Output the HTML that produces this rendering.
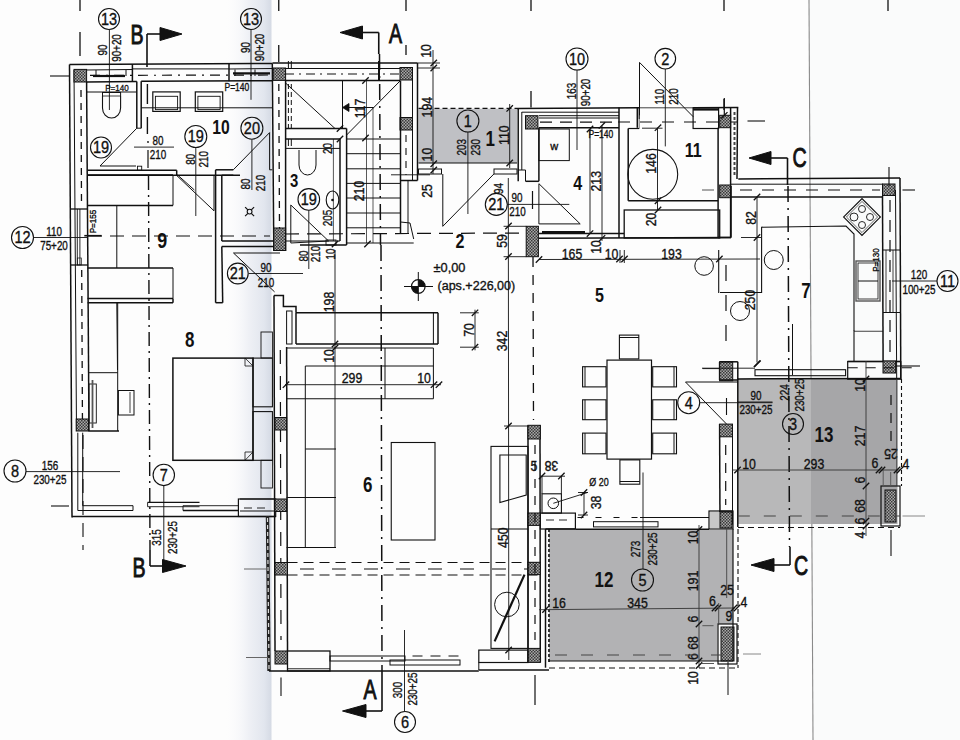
<!DOCTYPE html>
<html><head><meta charset="utf-8"><style>
html,body{margin:0;padding:0;background:#fff;}
svg{display:block;font-family:"Liberation Sans",sans-serif;}
</style></head><body>
<svg width="960" height="740" viewBox="0 0 960 740">
<defs>
<pattern id="hat" width="3" height="3" patternUnits="userSpaceOnUse"><rect width="3" height="3" fill="#a8a8a8"/><rect width="1.5" height="1.5" fill="#3a3a3a"/><rect x="1.5" y="1.5" width="1.5" height="1.5" fill="#3a3a3a"/></pattern>
<linearGradient id="crease" x1="0" x2="1" y1="0" y2="0">
<stop offset="0" stop-color="#fff" stop-opacity="0"/><stop offset="0.55" stop-color="#eef0f5" stop-opacity="1"/><stop offset="0.85" stop-color="#e2e6ee" stop-opacity="1"/><stop offset="1" stop-color="#d5dae4" stop-opacity="1"/></linearGradient>
</defs>
<rect width="960" height="740" fill="#fdfdfd"/>
<polygon points="809,0 960,0 960,740 813,740" fill="#fafbfb"/>
<rect x="222" y="0" width="49.5" height="740" fill="url(#crease)"/>
<line x1="809" y1="0" x2="813" y2="740" stroke="#8a8a8a" stroke-width="1.1"/>
<rect x="418.5" y="108.75" width="98.5" height="54.25" fill="#bfc0c4"/>
<rect x="737.5" y="379" width="73.5" height="145" fill="#b8b8b9"/>
<rect x="811" y="379" width="86.5" height="145" fill="#a6a6a8"/>
<rect x="549" y="530" width="184" height="131" fill="#b2b2b4"/>
<rect x="717.5" y="624" width="16" height="38" fill="#fdfdfd"/>
<line x1="80" y1="0" x2="80" y2="11" stroke="#111" stroke-width="1.3"/>
<line x1="278.75" y1="0" x2="278.75" y2="11" stroke="#111" stroke-width="1.3"/>
<line x1="406" y1="0" x2="406" y2="11" stroke="#111" stroke-width="1.3"/>
<line x1="531" y1="0" x2="531" y2="11" stroke="#111" stroke-width="1.3"/>
<line x1="724" y1="0" x2="724" y2="11" stroke="#111" stroke-width="1.3"/>
<line x1="888" y1="0" x2="888" y2="11" stroke="#111" stroke-width="1.3"/>
<line x1="80" y1="32" x2="80" y2="56" stroke="#111" stroke-width="1.3"/>
<line x1="278.75" y1="45" x2="278.75" y2="62" stroke="#111" stroke-width="1.3"/>
<line x1="406" y1="45" x2="406" y2="55" stroke="#111" stroke-width="1.3"/>
<line x1="531" y1="91" x2="531" y2="107.5" stroke="#111" stroke-width="1.3"/>
<line x1="724" y1="99" x2="724" y2="110" stroke="#111" stroke-width="1.3"/>
<line x1="50" y1="76" x2="69" y2="76" stroke="#111" stroke-width="1.1"/>
<line x1="147" y1="67" x2="147" y2="34" stroke="#111" stroke-width="1.6"/>
<line x1="147" y1="34" x2="160" y2="34" stroke="#111" stroke-width="1.6"/>
<polygon points="160,27.5 182,34 160,40.5" stroke="#111" stroke-width="1" fill="#111"/>
<text transform="translate(137,34) scale(0.7,1)" y="10.08" font-size="28" font-weight="normal" text-anchor="middle" fill="#111" stroke="#111" stroke-width="1.0">B</text>
<line x1="378.75" y1="54" x2="378.75" y2="32.5" stroke="#111" stroke-width="1.6"/>
<line x1="378.75" y1="32.5" x2="362.5" y2="32.5" stroke="#111" stroke-width="1.6"/>
<polygon points="362.5,26.0 340,32.5 362.5,39.0" stroke="#111" stroke-width="1" fill="#111"/>
<text transform="translate(395.5,33) scale(0.7,1)" y="10.08" font-size="28" font-weight="normal" text-anchor="middle" fill="#111" stroke="#111" stroke-width="1.0">A</text>
<line x1="787.5" y1="185" x2="787.5" y2="158" stroke="#111" stroke-width="1.6"/>
<line x1="787.5" y1="158" x2="771" y2="158" stroke="#111" stroke-width="1.6"/>
<polygon points="771,151.5 749,158 771,164.5" stroke="#111" stroke-width="1" fill="#111"/>
<text transform="translate(799.5,157) scale(0.7,1)" y="10.08" font-size="28" font-weight="normal" text-anchor="middle" fill="#111" stroke="#111" stroke-width="1.0">C</text>
<line x1="150" y1="550" x2="150" y2="566" stroke="#111" stroke-width="1.6"/>
<line x1="150" y1="566" x2="162.5" y2="566" stroke="#111" stroke-width="1.6"/>
<polygon points="162.5,559.5 186,566 162.5,572.5" stroke="#111" stroke-width="1" fill="#111"/>
<text transform="translate(139,567) scale(0.7,1)" y="10.08" font-size="28" font-weight="normal" text-anchor="middle" fill="#111" stroke="#111" stroke-width="1.0">B</text>
<line x1="382" y1="671" x2="382" y2="711" stroke="#111" stroke-width="1.6"/>
<line x1="382" y1="711" x2="366" y2="711" stroke="#111" stroke-width="1.6"/>
<polygon points="366,704.5 342.5,711 366,717.5" stroke="#111" stroke-width="1" fill="#111"/>
<text transform="translate(370,689) scale(0.7,1)" y="10.08" font-size="28" font-weight="normal" text-anchor="middle" fill="#111" stroke="#111" stroke-width="1.0">A</text>
<line x1="790" y1="547" x2="790" y2="565" stroke="#111" stroke-width="1.6"/>
<line x1="790" y1="565" x2="774" y2="565" stroke="#111" stroke-width="1.6"/>
<polygon points="774,558.5 751,565 774,571.5" stroke="#111" stroke-width="1" fill="#111"/>
<text transform="translate(801,565) scale(0.7,1)" y="10.08" font-size="28" font-weight="normal" text-anchor="middle" fill="#111" stroke="#111" stroke-width="1.0">C</text>
<line x1="69.5" y1="64.5" x2="72" y2="517.5" stroke="#111" stroke-width="1.5"/>
<line x1="74" y1="70" x2="76.5" y2="431" stroke="#111" stroke-width="1.0"/>
<line x1="86.6" y1="82" x2="89" y2="431" stroke="#111" stroke-width="1.5"/>
<line x1="81" y1="90" x2="81.5" y2="205" stroke="#111" stroke-width="1.3" stroke-dasharray="7,6"/>
<line x1="81.7" y1="270" x2="82.5" y2="431" stroke="#111" stroke-width="1.3" stroke-dasharray="7,6"/>
<rect x="74" y="69.4" width="12.6" height="12.6" fill="url(#hat)" stroke="#111" stroke-width="1"/>
<line x1="70" y1="209" x2="88" y2="209" stroke="#111" stroke-width="1.3"/>
<line x1="70" y1="265" x2="88" y2="265" stroke="#111" stroke-width="1.3"/>
<line x1="77.3" y1="209" x2="77.3" y2="265" stroke="#111" stroke-width="0.9"/>
<line x1="79.9" y1="209" x2="79.9" y2="265" stroke="#111" stroke-width="0.9"/>
<rect x="77.3" y="258" width="4" height="7" stroke="#111" stroke-width="0.7" fill="none"/>
<line x1="69.5" y1="64.5" x2="272.5" y2="63.5" stroke="#111" stroke-width="1.5"/>
<line x1="86.6" y1="70" x2="132.4" y2="69.5" stroke="#111" stroke-width="1.0"/>
<line x1="132.4" y1="68.9" x2="229" y2="68.9" stroke="#111" stroke-width="1.0"/>
<line x1="229" y1="69" x2="272.5" y2="68.5" stroke="#111" stroke-width="1.0"/>
<line x1="86.6" y1="82" x2="136.8" y2="81.5" stroke="#111" stroke-width="1.5"/>
<line x1="141.2" y1="81.3" x2="272.3" y2="80.8" stroke="#111" stroke-width="1.5"/>
<line x1="90" y1="75.4" x2="272" y2="75" stroke="#111" stroke-width="1.2" stroke-dasharray="10,6,2,6"/>
<line x1="132.4" y1="64" x2="132.4" y2="81.3" stroke="#111" stroke-width="1.5"/>
<line x1="229" y1="64" x2="229" y2="81.3" stroke="#111" stroke-width="1.5"/>
<line x1="93" y1="76" x2="125" y2="76" stroke="#111" stroke-width="2.2"/>
<line x1="86.6" y1="92" x2="136.8" y2="92" stroke="#111" stroke-width="1.0"/>
<text transform="translate(117,88) scale(0.85,1)" y="3.42" font-size="9.5" font-weight="normal" text-anchor="middle" fill="#111" stroke="#111" stroke-width="0.35">P=140</text>
<line x1="136.8" y1="81.5" x2="136.8" y2="128.2" stroke="#111" stroke-width="1.5"/>
<line x1="141.2" y1="81.3" x2="141.2" y2="128.2" stroke="#111" stroke-width="1.5"/>
<line x1="136.8" y1="128.2" x2="141.2" y2="128.2" stroke="#111" stroke-width="1.0"/>
<path d="M102.5,96 L102.5,108 A9,10 0 0 0 120.6,108 L120.6,96" stroke="#111" stroke-width="1.1" fill="none"/>
<line x1="102" y1="92.5" x2="121" y2="92.5" stroke="#111" stroke-width="1.0"/>
<line x1="102.5" y1="92.5" x2="102.5" y2="96" stroke="#111" stroke-width="1.0"/>
<line x1="120.6" y1="92.5" x2="120.6" y2="96" stroke="#111" stroke-width="1.0"/>
<line x1="102.5" y1="96" x2="120.6" y2="96" stroke="#111" stroke-width="0.8"/>
<line x1="87.6" y1="170.3" x2="176.7" y2="170.3" stroke="#111" stroke-width="1.5"/>
<rect x="137.5" y="166.2" width="4.2" height="4.1" stroke="#111" stroke-width="0.9" fill="none"/>
<line x1="176.7" y1="170.3" x2="176.7" y2="175.3" stroke="#111" stroke-width="1.5"/>
<line x1="87.6" y1="175.3" x2="240" y2="175.3" stroke="#111" stroke-width="1.5"/>
<polyline points="136.8,128.2 100,166 136,166" stroke="#111" stroke-width="1.0" fill="none"/>
<line x1="134" y1="147.1" x2="174" y2="147.1" stroke="#111" stroke-width="0.9"/>
<line x1="148" y1="150" x2="148" y2="168" stroke="#111" stroke-width="1.2"/>
<text transform="translate(158,140.8) scale(0.76,1)" y="4.68" font-size="13" font-weight="normal" text-anchor="middle" fill="#111" stroke="#111" stroke-width="0.35">80</text>
<text transform="translate(158,154.8) scale(0.76,1)" y="4.68" font-size="13" font-weight="normal" text-anchor="middle" fill="#111" stroke="#111" stroke-width="0.35">210</text>
<circle cx="148" cy="142" r="0.9" fill="#111"/>
<line x1="141.2" y1="107.8" x2="272.3" y2="107.8" stroke="#111" stroke-width="1.0"/>
<rect x="152.8" y="91.9" width="27.4" height="19.5" stroke="#111" stroke-width="1.2" fill="none"/>
<rect x="155.4" y="96.3" width="22.2" height="13.3" stroke="#111" stroke-width="0.9" fill="none"/>
<rect x="195.3" y="91.9" width="27.4" height="19.5" stroke="#111" stroke-width="1.2" fill="none"/>
<rect x="197.9" y="96.3" width="22.2" height="13.3" stroke="#111" stroke-width="0.9" fill="none"/>
<text transform="translate(236.9,87.6) scale(0.85,1)" y="3.60" font-size="10" font-weight="normal" text-anchor="middle" fill="#111" stroke="#111" stroke-width="0.35">P=140</text>
<line x1="251" y1="30" x2="251" y2="99.8" stroke="#111" stroke-width="0.9"/>
<line x1="147.4" y1="84" x2="147.4" y2="104" stroke="#111" stroke-width="1.4"/>
<line x1="147.4" y1="117" x2="147.4" y2="134" stroke="#111" stroke-width="1.4"/>
<text transform="translate(221,127.3) scale(0.8,1)" y="7.06" font-size="19.6" font-weight="bold" text-anchor="middle" fill="#111" stroke="#111" stroke-width="0">10</text>
<line x1="215.6" y1="169.8" x2="233.3" y2="169.8" stroke="#111" stroke-width="1.5"/>
<line x1="215.6" y1="169.8" x2="215.6" y2="302.7" stroke="#111" stroke-width="1.5"/>
<line x1="221.8" y1="175" x2="221.8" y2="241" stroke="#111" stroke-width="1.5"/>
<line x1="221.8" y1="175" x2="233.3" y2="175" stroke="#111" stroke-width="1.0"/>
<line x1="233.3" y1="169.8" x2="269.6" y2="132.6" stroke="#111" stroke-width="1.0"/>
<line x1="269.6" y1="132.6" x2="269.6" y2="169.8" stroke="#111" stroke-width="1.0"/>
<line x1="269.6" y1="169.8" x2="272.3" y2="169.8" stroke="#111" stroke-width="1.0"/>
<line x1="272.3" y1="63.5" x2="273.8" y2="251" stroke="#111" stroke-width="1.5"/>
<line x1="285.6" y1="80.5" x2="285.6" y2="251" stroke="#111" stroke-width="1.5"/>
<line x1="278.8" y1="84" x2="279.5" y2="228" stroke="#111" stroke-width="1.3" stroke-dasharray="7,6"/>
<rect x="273.2" y="68" width="12.4" height="12.4" fill="url(#hat)" stroke="#111" stroke-width="1"/>
<rect x="273.8" y="228" width="11.8" height="22.5" fill="url(#hat)" stroke="#111" stroke-width="1"/>
<line x1="221.8" y1="241" x2="273.8" y2="241" stroke="#111" stroke-width="1.5"/>
<line x1="221.8" y1="246.5" x2="273.8" y2="246.5" stroke="#111" stroke-width="1.5"/>
<line x1="221.8" y1="246.5" x2="222.7" y2="302.7" stroke="#111" stroke-width="1.5"/>
<line x1="215.6" y1="302.7" x2="222.7" y2="302.7" stroke="#111" stroke-width="1.5"/>
<circle cx="249.6" cy="211.6" r="2.4" stroke="#111" stroke-width="1.1" fill="none"/>
<line x1="245.1" y1="207.1" x2="247.9" y2="209.9" stroke="#111" stroke-width="1.2"/>
<line x1="254.1" y1="207.1" x2="251.3" y2="209.9" stroke="#111" stroke-width="1.2"/>
<line x1="245.1" y1="216.1" x2="247.9" y2="213.3" stroke="#111" stroke-width="1.2"/>
<line x1="254.1" y1="216.1" x2="251.3" y2="213.3" stroke="#111" stroke-width="1.2"/>
<line x1="233.5" y1="253" x2="280" y2="253" stroke="#111" stroke-width="1.0"/>
<line x1="233.5" y1="253" x2="274.6" y2="291.9" stroke="#111" stroke-width="1.0"/>
<circle cx="237.8" cy="273.5" r="10.4" stroke="#111" stroke-width="1.1" fill="none"/>
<text transform="translate(237.8,273.5) scale(0.88,1)" y="5.94" font-size="16.5" font-weight="normal" text-anchor="middle" fill="#111" stroke="#111" stroke-width="0.35">21</text>
<line x1="248.6" y1="273.5" x2="303" y2="273.5" stroke="#111" stroke-width="0.9"/>
<text transform="translate(266,267) scale(0.76,1)" y="4.68" font-size="13" font-weight="normal" text-anchor="middle" fill="#111" stroke="#111" stroke-width="0.35">90</text>
<text transform="translate(266,282.2) scale(0.76,1)" y="4.68" font-size="13" font-weight="normal" text-anchor="middle" fill="#111" stroke="#111" stroke-width="0.35">210</text>
<line x1="87.6" y1="175" x2="173" y2="175" stroke="#111" stroke-width="1.5"/>
<line x1="173" y1="175" x2="173" y2="205.4" stroke="#111" stroke-width="1.0"/>
<line x1="87.6" y1="205.4" x2="173" y2="205.4" stroke="#111" stroke-width="1.5"/>
<line x1="116.8" y1="205.4" x2="116.8" y2="268" stroke="#111" stroke-width="1.0"/>
<line x1="87.6" y1="268" x2="173" y2="268" stroke="#111" stroke-width="1.5"/>
<line x1="173" y1="268" x2="173" y2="298.4" stroke="#111" stroke-width="1.0"/>
<line x1="87.6" y1="298.4" x2="173" y2="298.4" stroke="#111" stroke-width="1.5"/>
<line x1="87.6" y1="302.7" x2="173" y2="302.7" stroke="#111" stroke-width="1.5"/>
<line x1="173" y1="298.4" x2="173" y2="302.7" stroke="#111" stroke-width="1.5"/>
<line x1="116.8" y1="302.7" x2="117.5" y2="370" stroke="#111" stroke-width="1.0"/>
<text transform="translate(93,221.6) rotate(-90) scale(0.85,1)" y="3.42" font-size="9.5" font-weight="normal" text-anchor="middle" fill="#111" stroke="#111" stroke-width="0.35">P=155</text>
<line x1="84.3" y1="235.7" x2="101.6" y2="235.7" stroke="#111" stroke-width="1.6"/>
<text transform="translate(162.2,240) scale(0.8,1)" y="8.03" font-size="22.3" font-weight="bold" text-anchor="middle" fill="#111" stroke="#111" stroke-width="0">9</text>
<line x1="176.2" y1="175" x2="214" y2="210.8" stroke="#111" stroke-width="1.0"/>
<line x1="214" y1="175" x2="214" y2="210.8" stroke="#111" stroke-width="1.0"/>
<line x1="195.8" y1="147.7" x2="195.8" y2="216" stroke="#111" stroke-width="0.9"/>
<circle cx="195.8" cy="136.5" r="11" stroke="#111" stroke-width="1.1" fill="none"/>
<text transform="translate(195.8,136.5) scale(0.88,1)" y="5.94" font-size="16.5" font-weight="normal" text-anchor="middle" fill="#111" stroke="#111" stroke-width="0.35">19</text>
<text transform="translate(190,159.2) rotate(-90) scale(0.76,1)" y="4.68" font-size="13" font-weight="normal" text-anchor="middle" fill="#111" stroke="#111" stroke-width="0.35">80</text>
<text transform="translate(203.2,159.2) rotate(-90) scale(0.76,1)" y="4.68" font-size="13" font-weight="normal" text-anchor="middle" fill="#111" stroke="#111" stroke-width="0.35">210</text>
<circle cx="251.9" cy="128.2" r="11" stroke="#111" stroke-width="1.1" fill="none"/>
<text transform="translate(251.9,128.2) scale(0.88,1)" y="5.94" font-size="16.5" font-weight="normal" text-anchor="middle" fill="#111" stroke="#111" stroke-width="0.35">20</text>
<line x1="251.9" y1="139.7" x2="251.9" y2="190" stroke="#111" stroke-width="0.9"/>
<text transform="translate(245.7,184) rotate(-90) scale(0.76,1)" y="4.68" font-size="13" font-weight="normal" text-anchor="middle" fill="#111" stroke="#111" stroke-width="0.35">80</text>
<text transform="translate(260,183) rotate(-90) scale(0.76,1)" y="4.68" font-size="13" font-weight="normal" text-anchor="middle" fill="#111" stroke="#111" stroke-width="0.35">210</text>
<line x1="177.6" y1="175" x2="194.4" y2="190" stroke="#111" stroke-width="1.0"/>
<circle cx="101" cy="147.5" r="10.5" stroke="#111" stroke-width="1.1" fill="none"/>
<text transform="translate(101,147.5) scale(0.88,1)" y="5.94" font-size="16.5" font-weight="normal" text-anchor="middle" fill="#111" stroke="#111" stroke-width="0.35">19</text>
<circle cx="109" cy="19" r="10.5" stroke="#111" stroke-width="1.1" fill="none"/>
<text transform="translate(109,19) scale(0.88,1)" y="5.94" font-size="16.5" font-weight="normal" text-anchor="middle" fill="#111" stroke="#111" stroke-width="0.35">13</text>
<line x1="109.4" y1="29.5" x2="109.4" y2="110" stroke="#111" stroke-width="0.9"/>
<text transform="translate(102,50) rotate(-90) scale(0.76,1)" y="4.68" font-size="13" font-weight="normal" text-anchor="middle" fill="#111" stroke="#111" stroke-width="0.35">90</text>
<text transform="translate(116.5,48) rotate(-90) scale(0.76,1)" y="4.68" font-size="13" font-weight="normal" text-anchor="middle" fill="#111" stroke="#111" stroke-width="0.35">90+20</text>
<circle cx="251" cy="19" r="10.5" stroke="#111" stroke-width="1.1" fill="none"/>
<text transform="translate(251,19) scale(0.88,1)" y="5.94" font-size="16.5" font-weight="normal" text-anchor="middle" fill="#111" stroke="#111" stroke-width="0.35">13</text>
<text transform="translate(245,47.5) rotate(-90) scale(0.76,1)" y="4.68" font-size="13" font-weight="normal" text-anchor="middle" fill="#111" stroke="#111" stroke-width="0.35">90</text>
<text transform="translate(259,47.5) rotate(-90) scale(0.76,1)" y="4.68" font-size="13" font-weight="normal" text-anchor="middle" fill="#111" stroke="#111" stroke-width="0.35">90+20</text>
<line x1="272.5" y1="63" x2="417.5" y2="63" stroke="#111" stroke-width="1.5"/>
<line x1="285" y1="68.5" x2="400" y2="68.5" stroke="#111" stroke-width="1.0"/>
<line x1="285" y1="74" x2="400" y2="74" stroke="#111" stroke-width="1.1" stroke-dasharray="9,5,2,5"/>
<line x1="285" y1="80.5" x2="400" y2="80.5" stroke="#111" stroke-width="1.5"/>
<rect x="400" y="67.5" width="12.5" height="12.5" fill="url(#hat)" stroke="#111" stroke-width="1"/>
<rect x="400" y="117.5" width="12.5" height="12.5" fill="url(#hat)" stroke="#111" stroke-width="1"/>
<line x1="417.5" y1="63" x2="417.5" y2="180.5" stroke="#111" stroke-width="1.5"/>
<line x1="400.5" y1="80.5" x2="400.5" y2="233.5" stroke="#111" stroke-width="1.5"/>
<line x1="412.5" y1="80" x2="412.5" y2="180.5" stroke="#111" stroke-width="1.0"/>
<line x1="406" y1="135" x2="406" y2="175" stroke="#111" stroke-width="1.1" stroke-dasharray="7,6"/>
<line x1="400.5" y1="180.5" x2="417.5" y2="180.5" stroke="#111" stroke-width="1.5"/>
<line x1="400.5" y1="233.5" x2="408" y2="233.5" stroke="#111" stroke-width="1.0"/>
<line x1="408" y1="180.5" x2="408" y2="233.5" stroke="#111" stroke-width="1.0"/>
<line x1="285" y1="82.5" x2="335" y2="128.5" stroke="#111" stroke-width="1.0"/>
<line x1="400" y1="81" x2="346.6" y2="135" stroke="#111" stroke-width="1.0"/>
<line x1="342.5" y1="80.5" x2="342.5" y2="128.5" stroke="#111" stroke-width="1.0"/>
<polygon points="342.5,107.5 349,103.5 349,111.5" stroke="#111" stroke-width="0.8" fill="#111"/>
<line x1="349" y1="107.5" x2="373.7" y2="107.5" stroke="#111" stroke-width="1.0"/>
<text transform="translate(360,108.5) rotate(-90) scale(0.88,1)" y="5.04" font-size="14" font-weight="normal" text-anchor="middle" fill="#111" stroke="#111" stroke-width="0.35">117</text>
<line x1="285" y1="128.5" x2="346.6" y2="128.5" stroke="#111" stroke-width="1.5"/>
<line x1="285" y1="139" x2="340" y2="139" stroke="#111" stroke-width="1.5"/>
<line x1="340" y1="139" x2="340" y2="241" stroke="#111" stroke-width="1.5"/>
<line x1="346.6" y1="128.5" x2="346.6" y2="245" stroke="#111" stroke-width="1.5"/>
<line x1="285" y1="148.4" x2="340" y2="148.4" stroke="#111" stroke-width="1.0"/>
<line x1="333.4" y1="139" x2="333.4" y2="241" stroke="#111" stroke-width="0.7"/>
<line x1="300" y1="245" x2="346.6" y2="245" stroke="#111" stroke-width="1.5"/>
<line x1="286" y1="241" x2="340" y2="241" stroke="#111" stroke-width="1.0"/>
<path d="M299,150 L299,165 A8.5,10 0 0 0 316,165 L316,150" stroke="#111" stroke-width="1" fill="none"/>
<ellipse cx="332.5" cy="200" rx="6.3" ry="9" stroke="#111" stroke-width="1.1" fill="none"/>
<circle cx="332.5" cy="200" r="1.3" fill="#111"/>
<polyline points="290.8,205 290.8,243 328.6,241" stroke="#111" stroke-width="1.0" fill="none"/>
<line x1="290.8" y1="205" x2="328.6" y2="241" stroke="#111" stroke-width="1.0"/>
<text transform="translate(294.2,180.5) scale(0.85,1)" y="6.30" font-size="17.5" font-weight="bold" text-anchor="middle" fill="#111" stroke="#111" stroke-width="0">3</text>
<line x1="346.6" y1="139" x2="400.5" y2="139" stroke="#111" stroke-width="1.0"/>
<line x1="346.6" y1="153.7" x2="400.5" y2="153.7" stroke="#111" stroke-width="1.0"/>
<line x1="346.6" y1="168.8" x2="400.5" y2="168.8" stroke="#111" stroke-width="1.0"/>
<line x1="346.6" y1="183.4" x2="400.5" y2="183.4" stroke="#111" stroke-width="1.0"/>
<line x1="346.6" y1="198" x2="400.5" y2="198" stroke="#111" stroke-width="1.0"/>
<line x1="346.6" y1="213" x2="400.5" y2="213" stroke="#111" stroke-width="1.0"/>
<line x1="346.6" y1="227.8" x2="400.5" y2="227.8" stroke="#111" stroke-width="1.0"/>
<line x1="366.5" y1="80.5" x2="366.5" y2="243" stroke="#111" stroke-width="0.7"/>
<line x1="373" y1="107.5" x2="373" y2="243" stroke="#111" stroke-width="0.7"/>
<line x1="346.6" y1="243" x2="413.7" y2="243" stroke="#111" stroke-width="1.0"/>
<polyline points="400.5,222 410,223 413.7,239" stroke="#111" stroke-width="1.0" fill="none"/>
<line x1="117.7" y1="302.3" x2="117.7" y2="431" stroke="#111" stroke-width="1.0"/>
<line x1="88.5" y1="372.7" x2="117.7" y2="372.7" stroke="#111" stroke-width="1.0"/>
<line x1="88.5" y1="431" x2="119" y2="431" stroke="#111" stroke-width="1.5"/>
<rect x="118.4" y="390.5" width="15.6" height="24.5" stroke="#111" stroke-width="1" fill="none"/>
<line x1="130" y1="392" x2="130" y2="413" stroke="#111" stroke-width="0.8"/>
<rect x="89" y="384" width="7.3" height="39" stroke="#111" stroke-width="0.9" fill="none"/>
<line x1="92.5" y1="380" x2="92.5" y2="428" stroke="#555" stroke-width="1.8"/>
<rect x="76.2" y="419" width="12.3" height="12" fill="url(#hat)" stroke="#111" stroke-width="1"/>
<line x1="77.8" y1="432.7" x2="77.8" y2="510.5" stroke="#111" stroke-width="1.0"/>
<line x1="82.7" y1="432.7" x2="82.7" y2="505.7" stroke="#111" stroke-width="1.0"/>
<line x1="77.8" y1="510.5" x2="133" y2="510.5" stroke="#111" stroke-width="1.0"/>
<line x1="82.7" y1="505.7" x2="133" y2="505.7" stroke="#111" stroke-width="1.0"/>
<line x1="133" y1="505.7" x2="133" y2="510.5" stroke="#111" stroke-width="1.0"/>
<line x1="72" y1="516.5" x2="275.7" y2="516.5" stroke="#111" stroke-width="1.5"/>
<text transform="translate(189.7,339.3) scale(0.8,1)" y="7.63" font-size="21.2" font-weight="bold" text-anchor="middle" fill="#111" stroke="#111" stroke-width="0">8</text>
<rect x="172.9" y="358.1" width="80.1" height="102.2" stroke="#111" stroke-width="1.5" fill="none"/>
<rect x="253" y="358.1" width="19.4" height="48.7" stroke="#111" stroke-width="1.1" fill="none"/>
<rect x="253" y="411.6" width="19.4" height="48.7" stroke="#111" stroke-width="1.1" fill="none"/>
<polygon points="245,358.1 253,366 245,366" stroke="#111" stroke-width="0.8" fill="none"/>
<polygon points="245,460.3 253,452 245,452" stroke="#111" stroke-width="0.8" fill="none"/>
<rect x="261" y="332" width="11.4" height="26" stroke="#111" stroke-width="0.9" fill="none"/>
<rect x="261" y="460.3" width="11.4" height="27.7" stroke="#111" stroke-width="0.9" fill="none"/>
<line x1="147.6" y1="502.4" x2="199.5" y2="502.4" stroke="#111" stroke-width="1.4"/>
<line x1="147.6" y1="506.7" x2="199.5" y2="506.7" stroke="#111" stroke-width="0.9"/>
<line x1="147.6" y1="502.4" x2="147.6" y2="506.7" stroke="#111" stroke-width="0.9"/>
<line x1="183" y1="505.7" x2="238.4" y2="505.7" stroke="#111" stroke-width="0.9"/>
<line x1="183" y1="510.5" x2="238.4" y2="510.5" stroke="#111" stroke-width="1.4"/>
<line x1="183" y1="505.7" x2="183" y2="510.5" stroke="#111" stroke-width="0.9"/>
<rect x="238.4" y="499" width="37.3" height="17.5" stroke="#111" stroke-width="1.2" fill="none"/>
<line x1="244" y1="508" x2="268" y2="508" stroke="#111" stroke-width="0.9" stroke-dasharray="8,5"/>
<circle cx="163.8" cy="474.9" r="10.7" stroke="#111" stroke-width="1.1" fill="none"/>
<text transform="translate(163.8,474.9) scale(0.88,1)" y="5.94" font-size="16.5" font-weight="normal" text-anchor="middle" fill="#111" stroke="#111" stroke-width="0.35">7</text>
<line x1="163.8" y1="485.6" x2="163.8" y2="566" stroke="#111" stroke-width="0.9"/>
<text transform="translate(156,537.5) rotate(-90) scale(0.76,1)" y="4.68" font-size="13" font-weight="normal" text-anchor="middle" fill="#111" stroke="#111" stroke-width="0.35">315</text>
<text transform="translate(172.5,537.5) rotate(-90) scale(0.76,1)" y="4.68" font-size="13" font-weight="normal" text-anchor="middle" fill="#111" stroke="#111" stroke-width="0.35">230+25</text>
<circle cx="15" cy="471" r="11" stroke="#111" stroke-width="1.1" fill="none"/>
<text transform="translate(15,471) scale(0.88,1)" y="5.94" font-size="16.5" font-weight="normal" text-anchor="middle" fill="#111" stroke="#111" stroke-width="0.35">8</text>
<line x1="26" y1="471.6" x2="120" y2="471.6" stroke="#111" stroke-width="0.9"/>
<text transform="translate(50,465) scale(0.76,1)" y="4.68" font-size="13" font-weight="normal" text-anchor="middle" fill="#111" stroke="#111" stroke-width="0.35">156</text>
<text transform="translate(50,479) scale(0.76,1)" y="4.68" font-size="13" font-weight="normal" text-anchor="middle" fill="#111" stroke="#111" stroke-width="0.35">230+25</text>
<line x1="51" y1="506" x2="69" y2="506" stroke="#111" stroke-width="1.1"/>
<line x1="83" y1="435" x2="83" y2="550" stroke="#111" stroke-width="1.1" stroke-dasharray="14,8"/>
<circle cx="22.5" cy="237.5" r="11" stroke="#111" stroke-width="1.1" fill="none"/>
<text transform="translate(22.5,237.5) scale(0.88,1)" y="5.94" font-size="16.5" font-weight="normal" text-anchor="middle" fill="#111" stroke="#111" stroke-width="0.35">12</text>
<line x1="33.5" y1="237.5" x2="88" y2="237.5" stroke="#111" stroke-width="0.9"/>
<text transform="translate(54,231) scale(0.76,1)" y="4.68" font-size="13" font-weight="normal" text-anchor="middle" fill="#111" stroke="#111" stroke-width="0.35">110</text>
<text transform="translate(54,245) scale(0.76,1)" y="4.68" font-size="13" font-weight="normal" text-anchor="middle" fill="#111" stroke="#111" stroke-width="0.35">75+20</text>
<line x1="148.5" y1="176" x2="150" y2="550" stroke="#111" stroke-width="1.4" stroke-dasharray="14,5,2,5"/>
<line x1="88" y1="236" x2="270" y2="236" stroke="#111" stroke-width="1.1" stroke-dasharray="14,8"/>
<polyline points="274,295.6 283.4,295.6 283.4,306.6 296,306.6 296,312.8" stroke="#111" stroke-width="1.5" fill="none"/>
<line x1="274" y1="295.6" x2="275" y2="651" stroke="#111" stroke-width="1.5"/>
<line x1="286.6" y1="347" x2="287.5" y2="651" stroke="#111" stroke-width="1.5"/>
<line x1="280.3" y1="350" x2="281" y2="640" stroke="#111" stroke-width="1.2" stroke-dasharray="14,12"/>
<rect x="286.6" y="311" width="5.4" height="33" stroke="#111" stroke-width="1" fill="none"/>
<line x1="296" y1="312.8" x2="438" y2="312.8" stroke="#111" stroke-width="1.5"/>
<line x1="438" y1="312.8" x2="438" y2="344" stroke="#111" stroke-width="1.5"/>
<line x1="433.4" y1="312.8" x2="433.4" y2="344" stroke="#111" stroke-width="1.0"/>
<line x1="296" y1="344" x2="438" y2="344" stroke="#111" stroke-width="1.5"/>
<line x1="296" y1="312.8" x2="296" y2="344" stroke="#111" stroke-width="1.5"/>
<line x1="286.6" y1="348" x2="433.4" y2="348" stroke="#111" stroke-width="1.0"/>
<line x1="433.4" y1="348" x2="433.4" y2="398.75" stroke="#111" stroke-width="1.0"/>
<line x1="305.3" y1="366" x2="433.4" y2="366" stroke="#111" stroke-width="1.0"/>
<line x1="305.3" y1="366" x2="305.3" y2="547.5" stroke="#111" stroke-width="1.0"/>
<line x1="385" y1="348" x2="385" y2="398.75" stroke="#111" stroke-width="1.0"/>
<line x1="286.6" y1="398.75" x2="433.4" y2="398.75" stroke="#111" stroke-width="1.0"/>
<line x1="285" y1="384.7" x2="441" y2="384.7" stroke="#111" stroke-width="0.9"/>
<text transform="translate(352,377.5) scale(0.88,1)" y="5.04" font-size="14" font-weight="normal" text-anchor="middle" fill="#111" stroke="#111" stroke-width="0.35">299</text>
<text transform="translate(424,377.5) scale(0.88,1)" y="5.04" font-size="14" font-weight="normal" text-anchor="middle" fill="#111" stroke="#111" stroke-width="0.35">10</text>
<line x1="335" y1="250" x2="335" y2="547.5" stroke="#111" stroke-width="0.9"/>
<text transform="translate(329.4,302) rotate(-90) scale(0.88,1)" y="5.04" font-size="14" font-weight="normal" text-anchor="middle" fill="#111" stroke="#111" stroke-width="0.35">198</text>
<text transform="translate(329.4,356) rotate(-90) scale(0.88,1)" y="5.04" font-size="14" font-weight="normal" text-anchor="middle" fill="#111" stroke="#111" stroke-width="0.35">10</text>
<line x1="305.3" y1="449" x2="336" y2="449" stroke="#111" stroke-width="1.0"/>
<line x1="286.6" y1="497.5" x2="336" y2="497.5" stroke="#111" stroke-width="1.0"/>
<line x1="286.6" y1="547.5" x2="336" y2="547.5" stroke="#111" stroke-width="1.0"/>
<rect x="391.25" y="442.5" width="43.75" height="97.5" stroke="#111" stroke-width="1.1" fill="none"/>
<text transform="translate(367.8,484) scale(0.8,1)" y="7.63" font-size="21.2" font-weight="bold" text-anchor="middle" fill="#111" stroke="#111" stroke-width="0">6</text>
<line x1="381" y1="245" x2="382" y2="671" stroke="#111" stroke-width="1.5" stroke-dasharray="16,6,2,6"/>
<rect x="275" y="417.5" width="11.6" height="12.5" fill="url(#hat)" stroke="#111" stroke-width="1"/>
<rect x="275" y="499" width="11.6" height="12.5" fill="url(#hat)" stroke="#111" stroke-width="1"/>
<rect x="275" y="562.5" width="12.5" height="12.5" fill="url(#hat)" stroke="#111" stroke-width="1"/>
<rect x="275" y="651" width="12.5" height="13" fill="url(#hat)" stroke="#111" stroke-width="1"/>
<line x1="240" y1="499" x2="275" y2="499" stroke="#111" stroke-width="1.0"/>
<line x1="240" y1="511" x2="275" y2="511" stroke="#111" stroke-width="1.0"/>
<line x1="267.5" y1="516" x2="269" y2="671" stroke="#222" stroke-width="3.4"/>
<line x1="267.5" y1="518" x2="269" y2="669" stroke="#ddd" stroke-width="1.2" stroke-dasharray="4,3"/>
<line x1="287.5" y1="562.5" x2="540" y2="562.5" stroke="#111" stroke-width="1.2" stroke-dasharray="10,6"/>
<line x1="287.5" y1="575" x2="540" y2="575" stroke="#111" stroke-width="1.2" stroke-dasharray="10,6"/>
<line x1="300" y1="569" x2="528" y2="569" stroke="#111" stroke-width="1.1" stroke-dasharray="14,18"/>
<line x1="244" y1="569" x2="267.5" y2="569" stroke="#666" stroke-width="1"/>
<line x1="246" y1="657.5" x2="267.5" y2="657.5" stroke="#666" stroke-width="1"/>
<rect x="287.5" y="651" width="42.5" height="20" stroke="#111" stroke-width="1.3" fill="none"/>
<line x1="269" y1="671" x2="478.8" y2="671" stroke="#111" stroke-width="1.5"/>
<line x1="287.5" y1="668.75" x2="330" y2="668.75" stroke="#111" stroke-width="0.9"/>
<rect x="330" y="656" width="75" height="5" stroke="#111" stroke-width="1" fill="none"/>
<rect x="390" y="660" width="70" height="5" stroke="#111" stroke-width="1" fill="none"/>
<line x1="412.5" y1="656" x2="465" y2="656" stroke="#111" stroke-width="1.2" stroke-dasharray="10,8"/>
<line x1="281" y1="677.5" x2="281" y2="696" stroke="#111" stroke-width="1.1"/>
<line x1="404.5" y1="630" x2="404.5" y2="711" stroke="#111" stroke-width="0.9"/>
<circle cx="405" cy="722" r="10.5" stroke="#111" stroke-width="1.1" fill="none"/>
<text transform="translate(405,722) scale(0.88,1)" y="5.94" font-size="16.5" font-weight="normal" text-anchor="middle" fill="#111" stroke="#111" stroke-width="0.35">6</text>
<text transform="translate(397.5,690) rotate(-90) scale(0.76,1)" y="4.68" font-size="13" font-weight="normal" text-anchor="middle" fill="#111" stroke="#111" stroke-width="0.35">300</text>
<text transform="translate(412.5,689) rotate(-90) scale(0.76,1)" y="4.68" font-size="13" font-weight="normal" text-anchor="middle" fill="#111" stroke="#111" stroke-width="0.35">230+25</text>
<circle cx="418.3" cy="286.5" r="6.8" stroke="#111" stroke-width="1.2" fill="#fff"/>
<path d="M418.3,286.5 L418.3,279.7 A6.8,6.8 0 0 1 425.1,286.5 Z M418.3,286.5 L418.3,293.3 A6.8,6.8 0 0 1 411.5,286.5 Z" fill="#111"/>
<line x1="404" y1="286.5" x2="433" y2="286.5" stroke="#111" stroke-width="1"/>
<line x1="418.3" y1="272" x2="418.3" y2="301" stroke="#111" stroke-width="1"/>
<text transform="translate(449.5,267.2) scale(0.95,1)" y="4.86" font-size="13.5" font-weight="normal" text-anchor="middle" fill="#111" stroke="#111" stroke-width="0.35">±0,00</text>
<text transform="translate(437.5,285.5) scale(0.93,1)" y="4.86" font-size="13.5" font-weight="normal" text-anchor="start" fill="#111" stroke="#111" stroke-width="0.35">(aps.+226,00)</text>
<line x1="475" y1="309.7" x2="475" y2="350.3" stroke="#111" stroke-width="0.9"/>
<line x1="460" y1="312.8" x2="478.75" y2="312.8" stroke="#111" stroke-width="0.9"/>
<line x1="460" y1="347.2" x2="478.75" y2="347.2" stroke="#111" stroke-width="0.9"/>
<text transform="translate(468.75,330) rotate(-90) scale(0.88,1)" y="5.04" font-size="14" font-weight="normal" text-anchor="middle" fill="#111" stroke="#111" stroke-width="0.35">70</text>
<line x1="433" y1="50" x2="433" y2="174" stroke="#111" stroke-width="0.9"/>
<text transform="translate(426,51) rotate(-90) scale(0.88,1)" y="5.04" font-size="14" font-weight="normal" text-anchor="middle" fill="#111" stroke="#111" stroke-width="0.35">10</text>
<text transform="translate(427,107.2) rotate(-90) scale(0.88,1)" y="5.04" font-size="14" font-weight="normal" text-anchor="middle" fill="#111" stroke="#111" stroke-width="0.35">194</text>
<text transform="translate(427,154.6) rotate(-90) scale(0.88,1)" y="5.04" font-size="14" font-weight="normal" text-anchor="middle" fill="#111" stroke="#111" stroke-width="0.35">10</text>
<text transform="translate(427,191) rotate(-90) scale(0.88,1)" y="5.04" font-size="14" font-weight="normal" text-anchor="middle" fill="#111" stroke="#111" stroke-width="0.35">25</text>
<line x1="417.5" y1="63" x2="440" y2="63" stroke="#111" stroke-width="0.9"/>
<line x1="417.5" y1="68" x2="440" y2="68" stroke="#111" stroke-width="0.9"/>
<line x1="391" y1="174.8" x2="430" y2="174.8" stroke="#111" stroke-width="0.9"/>
<text transform="translate(359,191) rotate(-90) scale(0.88,1)" y="5.04" font-size="14" font-weight="normal" text-anchor="middle" fill="#111" stroke="#111" stroke-width="0.35">210</text>
<text transform="translate(460,240.9) scale(0.8,1)" y="7.24" font-size="20.1" font-weight="bold" text-anchor="middle" fill="#111" stroke="#111" stroke-width="0">2</text>
<rect x="418.5" y="169" width="23" height="5" stroke="#111" stroke-width="1" fill="none"/>
<rect x="494" y="169" width="23" height="5" stroke="#111" stroke-width="1" fill="none"/>
<line x1="442.8" y1="174" x2="442.8" y2="226.3" stroke="#111" stroke-width="1.0"/>
<line x1="442.8" y1="226.3" x2="493.9" y2="174" stroke="#111" stroke-width="1.0"/>
<line x1="285" y1="234" x2="530" y2="233" stroke="#111" stroke-width="1.2" stroke-dasharray="14,8"/>
<line x1="418.5" y1="108.4" x2="517" y2="108.4" stroke="#111" stroke-width="1.2" stroke-dasharray="5,3"/>
<line x1="418.5" y1="163" x2="517" y2="163" stroke="#111" stroke-width="1.2"/>
<circle cx="467.9" cy="121" r="11" stroke="#111" stroke-width="1.1" fill="none"/>
<text transform="translate(467.9,121) scale(0.88,1)" y="5.94" font-size="16.5" font-weight="normal" text-anchor="middle" fill="#111" stroke="#111" stroke-width="0.35">1</text>
<line x1="467.9" y1="132" x2="467.9" y2="214" stroke="#111" stroke-width="0.9"/>
<text transform="translate(461,147.3) rotate(-90) scale(0.76,1)" y="4.68" font-size="13" font-weight="normal" text-anchor="middle" fill="#111" stroke="#111" stroke-width="0.35">203</text>
<text transform="translate(475.6,147.3) rotate(-90) scale(0.76,1)" y="4.68" font-size="13" font-weight="normal" text-anchor="middle" fill="#111" stroke="#111" stroke-width="0.35">230</text>
<text transform="translate(490.2,138.8) scale(0.8,1)" y="7.63" font-size="21.2" font-weight="bold" text-anchor="middle" fill="#111" stroke="#111" stroke-width="0">1</text>
<line x1="509.7" y1="104" x2="509.7" y2="168" stroke="#111" stroke-width="0.9"/>
<text transform="translate(503.6,135.1) rotate(-90) scale(0.88,1)" y="5.04" font-size="14" font-weight="normal" text-anchor="middle" fill="#111" stroke="#111" stroke-width="0.35">110</text>
<line x1="518.2" y1="108.4" x2="518.2" y2="181.3" stroke="#111" stroke-width="1.5"/>
<line x1="521.8" y1="112" x2="521.8" y2="170" stroke="#111" stroke-width="1.0"/>
<line x1="538.9" y1="127.8" x2="538.9" y2="181.3" stroke="#111" stroke-width="1.5"/>
<line x1="518.2" y1="170" x2="525.5" y2="170" stroke="#111" stroke-width="1.0"/>
<line x1="525.5" y1="170" x2="525.5" y2="181.3" stroke="#111" stroke-width="1.0"/>
<line x1="525.5" y1="181.3" x2="538.9" y2="181.3" stroke="#111" stroke-width="1.5"/>
<rect x="525.5" y="115.7" width="12.4" height="13.3" fill="url(#hat)" stroke="#111" stroke-width="1"/>
<line x1="517" y1="108.4" x2="639.2" y2="107.8" stroke="#111" stroke-width="1.5"/>
<line x1="639.2" y1="107.8" x2="693.1" y2="107.8" stroke="#111" stroke-width="0.8"/>
<line x1="693.1" y1="107.8" x2="738.3" y2="107.5" stroke="#111" stroke-width="1.5"/>
<line x1="521.8" y1="112.2" x2="619" y2="112.2" stroke="#111" stroke-width="1.0"/>
<line x1="538.9" y1="115.7" x2="619" y2="115.7" stroke="#111" stroke-width="1.0"/>
<line x1="538.9" y1="118" x2="619" y2="118" stroke="#111" stroke-width="1.0"/>
<line x1="538.9" y1="127.8" x2="619" y2="127.8" stroke="#111" stroke-width="1.5"/>
<line x1="540" y1="122.2" x2="618" y2="122.2" stroke="#111" stroke-width="1.2" stroke-dasharray="12,8"/>
<line x1="619" y1="107.5" x2="619" y2="238" stroke="#111" stroke-width="1.5"/>
<line x1="637.3" y1="107.5" x2="637.3" y2="127.8" stroke="#111" stroke-width="1.5"/>
<line x1="628.2" y1="128.5" x2="628.2" y2="200.8" stroke="#111" stroke-width="1.5"/>
<rect x="538.9" y="129" width="30.4" height="31.6" stroke="#111" stroke-width="1" fill="none"/>
<text transform="translate(554.2,145.6)" y="3.96" font-size="11" font-weight="normal" text-anchor="middle" fill="#111" stroke="#111" stroke-width="0.35">w</text>
<text transform="translate(600.9,133.9) scale(0.85,1)" y="3.60" font-size="10" font-weight="normal" text-anchor="middle" fill="#111" stroke="#111" stroke-width="0.35">P=140</text>
<line x1="590" y1="129" x2="590" y2="233.6" stroke="#111" stroke-width="0.9"/>
<line x1="602" y1="125.4" x2="602" y2="240.9" stroke="#111" stroke-width="0.9"/>
<text transform="translate(596,181.3) rotate(-90) scale(0.88,1)" y="5.04" font-size="14" font-weight="normal" text-anchor="middle" fill="#111" stroke="#111" stroke-width="0.35">213</text>
<text transform="translate(577.8,182.5) scale(0.8,1)" y="7.24" font-size="20.1" font-weight="bold" text-anchor="middle" fill="#111" stroke="#111" stroke-width="0">4</text>
<line x1="538.9" y1="233.6" x2="624" y2="233.6" stroke="#111" stroke-width="1.5"/>
<line x1="538.9" y1="238.3" x2="731" y2="237.5" stroke="#111" stroke-width="1.5"/>
<line x1="542" y1="232" x2="585" y2="232" stroke="#111" stroke-width="2"/>
<rect x="526.2" y="226.3" width="12.2" height="30.4" fill="url(#hat)" stroke="#111" stroke-width="1"/>
<line x1="538.9" y1="183.7" x2="538.9" y2="223.9" stroke="#111" stroke-width="1.0"/>
<line x1="538.9" y1="183.7" x2="580.2" y2="223.9" stroke="#111" stroke-width="1.0"/>
<line x1="538.9" y1="223.9" x2="580.2" y2="223.9" stroke="#111" stroke-width="1.0"/>
<line x1="533" y1="257" x2="533.5" y2="420" stroke="#111" stroke-width="1.3" stroke-dasharray="10,8"/>
<circle cx="496.3" cy="204.4" r="11" stroke="#111" stroke-width="1.1" fill="none"/>
<text transform="translate(496.3,204.4) scale(0.88,1)" y="5.94" font-size="16.5" font-weight="normal" text-anchor="middle" fill="#111" stroke="#111" stroke-width="0.35">21</text>
<line x1="507.3" y1="204.4" x2="569.3" y2="204.4" stroke="#111" stroke-width="0.9"/>
<text transform="translate(517,197) scale(0.76,1)" y="4.68" font-size="13" font-weight="normal" text-anchor="middle" fill="#111" stroke="#111" stroke-width="0.35">90</text>
<text transform="translate(517.5,211.7) scale(0.76,1)" y="4.68" font-size="13" font-weight="normal" text-anchor="middle" fill="#111" stroke="#111" stroke-width="0.35">210</text>
<text transform="translate(498.7,188.6) rotate(-90) scale(0.76,1)" y="4.68" font-size="13" font-weight="normal" text-anchor="middle" fill="#111" stroke="#111" stroke-width="0.35">94</text>
<line x1="532.5" y1="191" x2="532.5" y2="209" stroke="#111" stroke-width="1.2"/>
<line x1="508.3" y1="178" x2="508.8" y2="660" stroke="#111" stroke-width="0.9"/>
<line x1="503.6" y1="226.3" x2="526.2" y2="226.3" stroke="#111" stroke-width="0.9"/>
<line x1="503.6" y1="256.7" x2="526.2" y2="256.7" stroke="#111" stroke-width="0.9"/>
<text transform="translate(502.4,240.9) rotate(-90) scale(0.88,1)" y="5.04" font-size="14" font-weight="normal" text-anchor="middle" fill="#111" stroke="#111" stroke-width="0.35">59</text>
<text transform="translate(502,341) rotate(-90) scale(0.88,1)" y="5.04" font-size="14" font-weight="normal" text-anchor="middle" fill="#111" stroke="#111" stroke-width="0.35">342</text>
<line x1="539" y1="259.5" x2="760" y2="259" stroke="#111" stroke-width="0.9"/>
<line x1="620" y1="250" x2="620" y2="263" stroke="#111" stroke-width="0.9"/>
<line x1="624.3" y1="250" x2="624.3" y2="263" stroke="#111" stroke-width="0.9"/>
<text transform="translate(572,253.6) scale(0.88,1)" y="5.04" font-size="14" font-weight="normal" text-anchor="middle" fill="#111" stroke="#111" stroke-width="0.35">165</text>
<text transform="translate(611.5,253.6) scale(0.88,1)" y="5.04" font-size="14" font-weight="normal" text-anchor="middle" fill="#111" stroke="#111" stroke-width="0.35">10</text>
<text transform="translate(671.5,253.6) scale(0.88,1)" y="5.04" font-size="14" font-weight="normal" text-anchor="middle" fill="#111" stroke="#111" stroke-width="0.35">193</text>
<text transform="translate(596,247) rotate(-90) scale(0.88,1)" y="5.04" font-size="14" font-weight="normal" text-anchor="middle" fill="#111" stroke="#111" stroke-width="0.35">10</text>
<circle cx="577" cy="59" r="11" stroke="#111" stroke-width="1.1" fill="none"/>
<text transform="translate(577,59) scale(0.88,1)" y="5.94" font-size="16.5" font-weight="normal" text-anchor="middle" fill="#111" stroke="#111" stroke-width="0.35">10</text>
<line x1="577" y1="70" x2="577" y2="150" stroke="#111" stroke-width="0.9"/>
<text transform="translate(571,91) rotate(-90) scale(0.76,1)" y="4.68" font-size="13" font-weight="normal" text-anchor="middle" fill="#111" stroke="#111" stroke-width="0.35">163</text>
<text transform="translate(585,92.5) rotate(-90) scale(0.76,1)" y="4.68" font-size="13" font-weight="normal" text-anchor="middle" fill="#111" stroke="#111" stroke-width="0.35">90+20</text>
<circle cx="665.3" cy="58.7" r="10.3" stroke="#111" stroke-width="1.1" fill="none"/>
<text transform="translate(665.3,58.7) scale(0.88,1)" y="5.94" font-size="16.5" font-weight="normal" text-anchor="middle" fill="#111" stroke="#111" stroke-width="0.35">2</text>
<line x1="665.3" y1="69" x2="665.3" y2="146.4" stroke="#111" stroke-width="0.9"/>
<text transform="translate(659.7,96.6) rotate(-90) scale(0.76,1)" y="4.68" font-size="13" font-weight="normal" text-anchor="middle" fill="#111" stroke="#111" stroke-width="0.35">110</text>
<text transform="translate(673,96.6) rotate(-90) scale(0.76,1)" y="4.68" font-size="13" font-weight="normal" text-anchor="middle" fill="#111" stroke="#111" stroke-width="0.35">210</text>
<line x1="639.5" y1="62.4" x2="639.5" y2="115.3" stroke="#111" stroke-width="1.0"/>
<line x1="639.5" y1="62.4" x2="693.3" y2="116.8" stroke="#111" stroke-width="1.0"/>
<line x1="639.2" y1="107.8" x2="639.2" y2="119" stroke="#111" stroke-width="1.2"/>
<line x1="628.2" y1="128.5" x2="639.2" y2="128.5" stroke="#111" stroke-width="1.2"/>
<line x1="639.2" y1="119" x2="639.2" y2="128.5" stroke="#111" stroke-width="0.6"/>
<rect x="693.1" y="107.8" width="25.5" height="20.7" stroke="#111" stroke-width="1.2" fill="none"/>
<line x1="693.1" y1="109.5" x2="718.6" y2="109.5" stroke="#111" stroke-width="2.2"/>
<line x1="618" y1="122" x2="738" y2="122" stroke="#111" stroke-width="1.2" stroke-dasharray="12,10"/>
<line x1="642" y1="128.2" x2="662.5" y2="128.2" stroke="#111" stroke-width="0.9"/>
<line x1="628.2" y1="200.8" x2="718.1" y2="200.8" stroke="#111" stroke-width="1.5"/>
<line x1="718.1" y1="127.7" x2="718.1" y2="238" stroke="#111" stroke-width="1.5"/>
<line x1="730.6" y1="107.5" x2="730.6" y2="238" stroke="#111" stroke-width="1.5"/>
<line x1="737.5" y1="107.5" x2="737" y2="179" stroke="#111" stroke-width="1.5"/>
<line x1="734.5" y1="112" x2="734.5" y2="176" stroke="#444" stroke-width="2" stroke-dasharray="3,2"/>
<rect x="719.7" y="115.3" width="10.9" height="12.4" fill="url(#hat)" stroke="#111" stroke-width="1"/>
<rect x="719.7" y="185" width="10.9" height="12.7" fill="url(#hat)" stroke="#111" stroke-width="1"/>
<circle cx="652.8" cy="174.3" r="24.9" stroke="#111" stroke-width="1.1" fill="none"/>
<line x1="657.5" y1="127.7" x2="657.5" y2="210" stroke="#111" stroke-width="0.9"/>
<text transform="translate(651.3,163.5) rotate(-90) scale(0.88,1)" y="5.04" font-size="14" font-weight="normal" text-anchor="middle" fill="#111" stroke="#111" stroke-width="0.35">146</text>
<text transform="translate(651.3,219.4) rotate(-90) scale(0.88,1)" y="5.04" font-size="14" font-weight="normal" text-anchor="middle" fill="#111" stroke="#111" stroke-width="0.35">20</text>
<text transform="translate(693.3,150.1) scale(0.8,1)" y="7.24" font-size="20.1" font-weight="bold" text-anchor="middle" fill="#111" stroke="#111" stroke-width="0">11</text>
<rect x="624.2" y="210" width="95.5" height="28" stroke="#111" stroke-width="1.3" fill="none"/>
<line x1="724.3" y1="98" x2="724.3" y2="115.3" stroke="#111" stroke-width="1.2"/>
<line x1="726" y1="265" x2="726" y2="350" stroke="#111" stroke-width="1.2" stroke-dasharray="16,14"/>
<line x1="718.7" y1="250" x2="718.7" y2="293" stroke="#111" stroke-width="1.1"/>
<line x1="747.5" y1="121" x2="765" y2="121" stroke="#111" stroke-width="1.1"/>
<circle cx="704.1" cy="266" r="9.3" stroke="#111" stroke-width="1" fill="none"/>
<line x1="738.3" y1="179" x2="900" y2="178" stroke="#111" stroke-width="1.5"/>
<line x1="731" y1="184.2" x2="883" y2="184.2" stroke="#111" stroke-width="1.0"/>
<line x1="731" y1="197" x2="882.5" y2="197" stroke="#111" stroke-width="1.5"/>
<line x1="740" y1="190" x2="880" y2="190" stroke="#111" stroke-width="1.2" stroke-dasharray="12,10"/>
<line x1="702" y1="190" x2="714" y2="190" stroke="#555" stroke-width="1"/>
<line x1="731" y1="186" x2="731" y2="237.5" stroke="#111" stroke-width="1.5"/>
<line x1="718" y1="237.5" x2="731" y2="237.5" stroke="#111" stroke-width="1.5"/>
<rect x="882.5" y="184" width="12.5" height="11.5" fill="url(#hat)" stroke="#111" stroke-width="1"/>
<line x1="900" y1="178" x2="900.8" y2="379.2" stroke="#111" stroke-width="1.5"/>
<line x1="882.5" y1="196" x2="883.1" y2="361.5" stroke="#111" stroke-width="1.5"/>
<line x1="895.5" y1="190" x2="896.7" y2="379" stroke="#111" stroke-width="1.0"/>
<line x1="890" y1="200" x2="890" y2="360" stroke="#111" stroke-width="1.2" stroke-dasharray="12,8"/>
<line x1="883" y1="250" x2="900" y2="250" stroke="#111" stroke-width="1.0"/>
<line x1="883" y1="312.5" x2="900" y2="312.5" stroke="#111" stroke-width="1.0"/>
<line x1="886" y1="250" x2="886" y2="312.5" stroke="#111" stroke-width="0.8"/>
<line x1="893" y1="250" x2="893" y2="312.5" stroke="#111" stroke-width="0.8"/>
<line x1="902.5" y1="190" x2="915" y2="190" stroke="#111" stroke-width="1.1"/>
<polyline points="720,292.5 761.6,292.5 761.6,227.2 846,226 854,234 854,361.5" stroke="#111" stroke-width="1.1" fill="none"/>
<line x1="854" y1="331.25" x2="883" y2="331.25" stroke="#111" stroke-width="0.8"/>
<line x1="854" y1="330" x2="854" y2="331" stroke="#111" stroke-width="0.5"/>
<line x1="757" y1="197" x2="757" y2="362.5" stroke="#111" stroke-width="0.9"/>
<line x1="741" y1="237.5" x2="761" y2="237.5" stroke="#111" stroke-width="0.9"/>
<text transform="translate(750.8,217.9) rotate(-90) scale(0.88,1)" y="5.04" font-size="14" font-weight="normal" text-anchor="middle" fill="#111" stroke="#111" stroke-width="0.35">82</text>
<text transform="translate(750,300) rotate(-90) scale(0.88,1)" y="5.04" font-size="14" font-weight="normal" text-anchor="middle" fill="#111" stroke="#111" stroke-width="0.35">250</text>
<g transform="translate(862,217) rotate(45)"><rect x="-13" y="-13" width="26" height="26" stroke="#111" stroke-width="1.1" fill="none"/><rect x="-11" y="-11" width="22" height="22" stroke="#111" stroke-width="0.6" fill="none"/></g>
<circle cx="862" cy="209" r="3.5" stroke="#111" stroke-width="0.9" fill="none"/>
<circle cx="870" cy="217" r="3.5" stroke="#111" stroke-width="0.9" fill="none"/>
<circle cx="862" cy="225" r="3.5" stroke="#111" stroke-width="0.9" fill="none"/>
<circle cx="854" cy="217" r="4" stroke="#111" stroke-width="0.9" fill="none"/>
<rect x="856" y="261" width="24" height="40" stroke="#555" stroke-width="1.4" fill="none"/>
<rect x="858" y="263" width="20" height="36" stroke="#111" stroke-width="0.8" fill="none"/>
<line x1="858" y1="281" x2="878" y2="281" stroke="#111" stroke-width="1"/>
<text transform="translate(876,260) rotate(-90) scale(0.85,1)" y="3.42" font-size="9.5" font-weight="normal" text-anchor="middle" fill="#111" stroke="#111" stroke-width="0.35">P=130</text>
<circle cx="947.5" cy="281" r="10.5" stroke="#111" stroke-width="1.1" fill="none"/>
<text transform="translate(947.5,281) scale(0.88,1)" y="5.94" font-size="16.5" font-weight="normal" text-anchor="middle" fill="#111" stroke="#111" stroke-width="0.35">11</text>
<line x1="892" y1="281" x2="937" y2="281" stroke="#111" stroke-width="0.9"/>
<text transform="translate(919,274) scale(0.76,1)" y="4.68" font-size="13" font-weight="normal" text-anchor="middle" fill="#111" stroke="#111" stroke-width="0.35">120</text>
<text transform="translate(919,289) scale(0.76,1)" y="4.68" font-size="13" font-weight="normal" text-anchor="middle" fill="#111" stroke="#111" stroke-width="0.35">100+25</text>
<circle cx="773.75" cy="260" r="9.5" stroke="#111" stroke-width="1" fill="none"/>
<circle cx="740" cy="311" r="9.5" stroke="#111" stroke-width="1" fill="none"/>
<text transform="translate(806,290) scale(0.8,1)" y="7.63" font-size="21.2" font-weight="bold" text-anchor="middle" fill="#111" stroke="#111" stroke-width="0">7</text>
<line x1="788" y1="186" x2="789.5" y2="547" stroke="#111" stroke-width="1.5" stroke-dasharray="16,6,2,6"/>
<line x1="792.5" y1="324" x2="792.5" y2="375" stroke="#111" stroke-width="1"/>
<line x1="895" y1="366" x2="920" y2="366" stroke="#111" stroke-width="1.1"/>
<text transform="translate(599.5,295) scale(0.8,1)" y="7.24" font-size="20.1" font-weight="bold" text-anchor="middle" fill="#111" stroke="#111" stroke-width="0">5</text>
<rect x="607" y="360.1" width="44.5" height="99" stroke="#111" stroke-width="1.2" fill="none"/>
<rect x="619.4" y="335.1" width="19.4" height="23.8" stroke="#111" stroke-width="1.1" fill="none"/>
<line x1="619.4" y1="337.5" x2="638.8" y2="337.5" stroke="#111" stroke-width="1"/>
<rect x="619.9" y="459.9" width="19.9" height="24.3" stroke="#111" stroke-width="1.1" fill="none"/>
<line x1="619.9" y1="481.5" x2="639.8" y2="481.5" stroke="#111" stroke-width="1"/>
<rect x="582.6" y="366.7" width="23.4" height="20.19999999999999" stroke="#111" stroke-width="1.1" fill="none"/>
<line x1="585" y1="366.7" x2="585" y2="386.9" stroke="#111" stroke-width="1"/>
<rect x="652.7" y="366.7" width="23.8" height="20.19999999999999" stroke="#111" stroke-width="1.1" fill="none"/>
<line x1="674" y1="366.7" x2="674" y2="386.9" stroke="#111" stroke-width="1"/>
<rect x="582.6" y="399.8" width="23.4" height="19.899999999999977" stroke="#111" stroke-width="1.1" fill="none"/>
<line x1="585" y1="399.8" x2="585" y2="419.7" stroke="#111" stroke-width="1"/>
<rect x="652.7" y="399.8" width="23.8" height="19.899999999999977" stroke="#111" stroke-width="1.1" fill="none"/>
<line x1="674" y1="399.8" x2="674" y2="419.7" stroke="#111" stroke-width="1"/>
<rect x="582.6" y="433.1" width="23.4" height="20.69999999999999" stroke="#111" stroke-width="1.1" fill="none"/>
<line x1="585" y1="433.1" x2="585" y2="453.8" stroke="#111" stroke-width="1"/>
<rect x="652.7" y="433.1" width="23.8" height="20.69999999999999" stroke="#111" stroke-width="1.1" fill="none"/>
<line x1="674" y1="433.1" x2="674" y2="453.8" stroke="#111" stroke-width="1"/>
<circle cx="688.7" cy="402.7" r="11" stroke="#111" stroke-width="1.1" fill="none"/>
<text transform="translate(688.7,402.7) scale(0.88,1)" y="5.94" font-size="16.5" font-weight="normal" text-anchor="middle" fill="#111" stroke="#111" stroke-width="0.35">4</text>
<line x1="685.5" y1="382" x2="737.8" y2="382" stroke="#111" stroke-width="1.0"/>
<line x1="685.5" y1="382" x2="727.6" y2="425.1" stroke="#111" stroke-width="1.0"/>
<line x1="699.7" y1="402.7" x2="772.5" y2="402.7" stroke="#111" stroke-width="0.9"/>
<line x1="719.6" y1="424" x2="720" y2="527" stroke="#111" stroke-width="1.5"/>
<line x1="732.5" y1="424" x2="732.5" y2="524" stroke="#111" stroke-width="1.0"/>
<line x1="737.8" y1="378.6" x2="737.8" y2="527" stroke="#111" stroke-width="1.5"/>
<line x1="719.6" y1="361.8" x2="719.6" y2="380" stroke="#111" stroke-width="1.5"/>
<line x1="737.8" y1="361.8" x2="737.8" y2="380" stroke="#111" stroke-width="1.5"/>
<rect x="719.6" y="361.8" width="13.1" height="19" fill="url(#hat)" stroke="#111" stroke-width="1"/>
<rect x="719.6" y="424.1" width="12.9" height="12.7" fill="url(#hat)" stroke="#111" stroke-width="1"/>
<rect x="719.6" y="511" width="12.9" height="13" fill="url(#hat)" stroke="#111" stroke-width="1"/>
<line x1="725.7" y1="445" x2="725.7" y2="505" stroke="#111" stroke-width="1.2" stroke-dasharray="10,8"/>
<line x1="702.6" y1="368.6" x2="719.6" y2="368.6" stroke="#111" stroke-width="0.9"/>
<line x1="726.5" y1="398" x2="726.5" y2="415" stroke="#111" stroke-width="1.1"/>
<line x1="719.6" y1="361.8" x2="737.8" y2="361.8" stroke="#111" stroke-width="1.5"/>
<line x1="847.7" y1="361.5" x2="900.8" y2="361.5" stroke="#111" stroke-width="1.5"/>
<line x1="737.8" y1="378.9" x2="900.8" y2="378.6" stroke="#111" stroke-width="1.5"/>
<line x1="719.6" y1="380" x2="737.8" y2="380" stroke="#111" stroke-width="1.5"/>
<rect x="755" y="369.7" width="90.6" height="6" stroke="#111" stroke-width="1.1" fill="none"/>
<line x1="702" y1="368.2" x2="755" y2="368.2" stroke="#111" stroke-width="0.9"/>
<rect x="847.7" y="361.5" width="53.1" height="17.7" stroke="#111" stroke-width="1.2" fill="none"/>
<rect x="883" y="361" width="12.6" height="12" fill="url(#hat)" stroke="#111" stroke-width="1"/>
<line x1="847.7" y1="367.7" x2="917.5" y2="367.7" stroke="#111" stroke-width="1.1" stroke-dasharray="10,8"/>
<text transform="translate(756,395) scale(0.76,1)" y="4.68" font-size="13" font-weight="normal" text-anchor="middle" fill="#111" stroke="#111" stroke-width="0.35">90</text>
<text transform="translate(756,409) scale(0.76,1)" y="4.68" font-size="13" font-weight="normal" text-anchor="middle" fill="#111" stroke="#111" stroke-width="0.35">230+25</text>
<line x1="737.8" y1="402" x2="772.5" y2="402" stroke="#111" stroke-width="0.9"/>
<text transform="translate(784,392.5) rotate(-90) scale(0.76,1)" y="4.68" font-size="13" font-weight="normal" text-anchor="middle" fill="#111" stroke="#111" stroke-width="0.35">224</text>
<text transform="translate(799,395) rotate(-90) scale(0.76,1)" y="4.68" font-size="13" font-weight="normal" text-anchor="middle" fill="#111" stroke="#111" stroke-width="0.35">230+25</text>
<circle cx="793" cy="424" r="10.5" stroke="#111" stroke-width="1.1" fill="none"/>
<text transform="translate(793,424) scale(0.88,1)" y="5.94" font-size="16.5" font-weight="normal" text-anchor="middle" fill="#111" stroke="#111" stroke-width="0.35">3</text>
<text transform="translate(824,434) scale(0.8,1)" y="7.63" font-size="21.2" font-weight="bold" text-anchor="middle" fill="#111" stroke="#111" stroke-width="0">13</text>
<line x1="732.5" y1="470" x2="900" y2="470" stroke="#333" stroke-width="0.9"/>
<text transform="translate(749,464) scale(0.88,1)" y="5.04" font-size="14" font-weight="normal" text-anchor="middle" fill="#111" stroke="#111" stroke-width="0.35">10</text>
<text transform="translate(814,464) scale(0.88,1)" y="5.04" font-size="14" font-weight="normal" text-anchor="middle" fill="#111" stroke="#111" stroke-width="0.35">293</text>
<text transform="translate(875,462.5) scale(0.88,1)" y="5.04" font-size="14" font-weight="normal" text-anchor="middle" fill="#111" stroke="#111" stroke-width="0.35">6</text>
<text transform="translate(906,464) scale(0.88,1)" y="5.04" font-size="14" font-weight="normal" text-anchor="middle" fill="#111" stroke="#111" stroke-width="0.35">4</text>
<text transform="translate(891,454) rotate(180) scale(0.88,1)" y="5.04" font-size="14" font-weight="normal" text-anchor="middle" fill="#111" stroke="#111" stroke-width="0.35">25</text>
<line x1="866" y1="361" x2="866" y2="536" stroke="#333" stroke-width="0.9"/>
<text transform="translate(860,385) rotate(-90) scale(0.88,1)" y="5.04" font-size="14" font-weight="normal" text-anchor="middle" fill="#111" stroke="#111" stroke-width="0.35">10</text>
<text transform="translate(860,436) rotate(-90) scale(0.88,1)" y="5.04" font-size="14" font-weight="normal" text-anchor="middle" fill="#111" stroke="#111" stroke-width="0.35">217</text>
<text transform="translate(860,480) rotate(-90) scale(0.88,1)" y="5.04" font-size="14" font-weight="normal" text-anchor="middle" fill="#111" stroke="#111" stroke-width="0.35">6</text>
<text transform="translate(860,506) rotate(-90) scale(0.88,1)" y="5.04" font-size="14" font-weight="normal" text-anchor="middle" fill="#111" stroke="#111" stroke-width="0.35">68</text>
<text transform="translate(860,521) rotate(-90) scale(0.88,1)" y="5.04" font-size="14" font-weight="normal" text-anchor="middle" fill="#111" stroke="#111" stroke-width="0.35">6</text>
<text transform="translate(860,535) rotate(-90) scale(0.88,1)" y="5.04" font-size="14" font-weight="normal" text-anchor="middle" fill="#111" stroke="#111" stroke-width="0.35">4</text>
<rect x="881" y="486" width="19" height="40" stroke="#111" stroke-width="1.2" fill="none"/>
<rect x="885" y="490" width="11" height="32" fill="url(#hat)" stroke="#111" stroke-width="1"/>
<line x1="737.8" y1="516" x2="900" y2="516" stroke="#444" stroke-width="1.1" stroke-dasharray="12,14"/>
<line x1="901.5" y1="379" x2="901.5" y2="486" stroke="#111" stroke-width="1.1" stroke-dasharray="4,3"/>
<line x1="883.2" y1="468" x2="883.2" y2="486" stroke="#555" stroke-width="0.9"/>
<line x1="890.7" y1="472" x2="890.7" y2="486" stroke="#555" stroke-width="0.9"/>
<line x1="896.8" y1="379" x2="896.8" y2="486" stroke="#333" stroke-width="0.9"/>
<line x1="738" y1="527.5" x2="900" y2="527.5" stroke="#111" stroke-width="1.1" stroke-dasharray="6,4"/>
<line x1="902.5" y1="516" x2="925" y2="516" stroke="#888" stroke-width="1"/>
<line x1="891" y1="395" x2="891" y2="445" stroke="#111" stroke-width="1.2" stroke-dasharray="10,8"/>
<line x1="891" y1="530" x2="891" y2="556" stroke="#111" stroke-width="1.1"/>
<line x1="540" y1="425" x2="540.3" y2="662.4" stroke="#111" stroke-width="1.5"/>
<line x1="528" y1="425.3" x2="528" y2="662.4" stroke="#111" stroke-width="1.5"/>
<rect x="528" y="425.3" width="12.3" height="13.7" fill="url(#hat)" stroke="#111" stroke-width="1"/>
<rect x="528" y="513" width="12.3" height="12.4" fill="url(#hat)" stroke="#111" stroke-width="1"/>
<rect x="528" y="562.3" width="12.3" height="12.3" fill="url(#hat)" stroke="#111" stroke-width="1"/>
<rect x="528" y="648.4" width="12.3" height="14" fill="url(#hat)" stroke="#111" stroke-width="1"/>
<line x1="535" y1="445" x2="535" y2="640" stroke="#111" stroke-width="1.2" stroke-dasharray="9,8"/>
<rect x="491" y="446.4" width="37" height="202" stroke="#111" stroke-width="1.1" fill="none"/>
<polygon points="499.9,455 526.2,455 526.2,495 499.9,502.6" stroke="#111" stroke-width="1.1" fill="none"/>
<line x1="491" y1="529" x2="528" y2="529" stroke="#111" stroke-width="1.0"/>
<circle cx="506.9" cy="604.5" r="12.3" stroke="#111" stroke-width="1" fill="none"/>
<line x1="494.6" y1="641.4" x2="524.5" y2="574.6" stroke="#111" stroke-width="2.2"/>
<rect x="478.8" y="650.1" width="49.2" height="12.4" stroke="#111" stroke-width="1.2" fill="none"/>
<line x1="478.8" y1="670" x2="549" y2="670" stroke="#111" stroke-width="1.5"/>
<line x1="478.8" y1="662.5" x2="478.8" y2="670" stroke="#111" stroke-width="1"/>
<text transform="translate(503.4,537.7) rotate(-90) scale(0.88,1)" y="5.04" font-size="14" font-weight="normal" text-anchor="middle" fill="#111" stroke="#111" stroke-width="0.35">450</text>
<line x1="504" y1="426" x2="528" y2="426" stroke="#111" stroke-width="0.9"/>
<line x1="545.5" y1="529" x2="545.5" y2="667.7" stroke="#111" stroke-width="1.5"/>
<line x1="549" y1="529" x2="549" y2="662" stroke="#333" stroke-width="2" stroke-dasharray="3,2"/>
<line x1="545.5" y1="529" x2="575.4" y2="529" stroke="#111" stroke-width="1.5"/>
<rect x="540.3" y="513.1" width="35.1" height="15.9" stroke="#111" stroke-width="1.2" fill="none"/>
<line x1="546" y1="520" x2="570" y2="520" stroke="#111" stroke-width="0.9" stroke-dasharray="8,5"/>
<rect x="542" y="493.8" width="19.4" height="19.3" stroke="#111" stroke-width="1.1" fill="none"/>
<circle cx="553.3" cy="503.3" r="5.3" stroke="#111" stroke-width="1" fill="none"/>
<line x1="542" y1="476" x2="542" y2="493.8" stroke="#111" stroke-width="0.9"/>
<line x1="561.4" y1="476" x2="561.4" y2="493.8" stroke="#111" stroke-width="0.9"/>
<line x1="540.3" y1="476.2" x2="565" y2="476.2" stroke="#111" stroke-width="0.9"/>
<text transform="translate(534,466) scale(0.88,1)" y="5.04" font-size="14" font-weight="normal" text-anchor="middle" fill="#111" stroke="#111" stroke-width="0.35">5</text>
<text transform="translate(551.5,466) rotate(180) scale(0.88,1)" y="5.04" font-size="14" font-weight="normal" text-anchor="middle" fill="#111" stroke="#111" stroke-width="0.35">38</text>
<line x1="553.3" y1="503.3" x2="587.5" y2="492.5" stroke="#111" stroke-width="0.9"/>
<text transform="translate(599,481.8) scale(0.85,1)" y="3.78" font-size="10.5" font-weight="normal" text-anchor="middle" fill="#111" stroke="#111" stroke-width="0.35">Ø 20</text>
<line x1="584" y1="492.5" x2="584" y2="515" stroke="#111" stroke-width="0.9"/>
<line x1="578" y1="492.5" x2="588" y2="492.5" stroke="#111" stroke-width="0.9"/>
<line x1="578" y1="515" x2="588" y2="515" stroke="#111" stroke-width="0.9"/>
<text transform="translate(596,502.5) rotate(-90) scale(0.88,1)" y="5.04" font-size="14" font-weight="normal" text-anchor="middle" fill="#111" stroke="#111" stroke-width="0.35">38</text>
<line x1="640" y1="517.5" x2="709" y2="517.5" stroke="#111" stroke-width="1.0"/>
<line x1="577.5" y1="517.5" x2="640" y2="517.5" stroke="#111" stroke-width="1.1" stroke-dasharray="6,12"/>
<rect x="593.5" y="521.7" width="64.5" height="5.2" stroke="#111" stroke-width="1" fill="none"/>
<line x1="575.4" y1="529.3" x2="709" y2="529.3" stroke="#111" stroke-width="1.5"/>
<rect x="709" y="511" width="24" height="18" stroke="#111" stroke-width="1.2" fill="none"/>
<rect x="710" y="512" width="10" height="16" fill="#c8c8c8"/>
<rect x="720" y="512" width="12" height="16" fill="url(#hat)" stroke="#111" stroke-width="1"/>
<line x1="643" y1="472.5" x2="643" y2="569" stroke="#111" stroke-width="0.9"/>
<circle cx="642.5" cy="580" r="11" stroke="#111" stroke-width="1.1" fill="none"/>
<text transform="translate(642.5,580) scale(0.88,1)" y="5.94" font-size="16.5" font-weight="normal" text-anchor="middle" fill="#111" stroke="#111" stroke-width="0.35">5</text>
<text transform="translate(635,549) rotate(-90) scale(0.76,1)" y="4.68" font-size="13" font-weight="normal" text-anchor="middle" fill="#111" stroke="#111" stroke-width="0.35">273</text>
<text transform="translate(652.5,549) rotate(-90) scale(0.76,1)" y="4.68" font-size="13" font-weight="normal" text-anchor="middle" fill="#111" stroke="#111" stroke-width="0.35">230+25</text>
<text transform="translate(604,579) scale(0.8,1)" y="7.63" font-size="21.2" font-weight="bold" text-anchor="middle" fill="#111" stroke="#111" stroke-width="0">12</text>
<line x1="539" y1="609.7" x2="735" y2="608" stroke="#333" stroke-width="0.9"/>
<text transform="translate(559,602.5) scale(0.88,1)" y="5.04" font-size="14" font-weight="normal" text-anchor="middle" fill="#111" stroke="#111" stroke-width="0.35">16</text>
<text transform="translate(637.5,602.5) scale(0.88,1)" y="5.04" font-size="14" font-weight="normal" text-anchor="middle" fill="#111" stroke="#111" stroke-width="0.35">345</text>
<text transform="translate(712.5,601) scale(0.88,1)" y="5.04" font-size="14" font-weight="normal" text-anchor="middle" fill="#111" stroke="#111" stroke-width="0.35">6</text>
<text transform="translate(727,590) scale(0.88,1)" y="5.04" font-size="14" font-weight="normal" text-anchor="middle" fill="#111" stroke="#111" stroke-width="0.35">25</text>
<text transform="translate(744,602) scale(0.88,1)" y="5.04" font-size="14" font-weight="normal" text-anchor="middle" fill="#111" stroke="#111" stroke-width="0.35">4</text>
<text transform="translate(729,615.5) scale(0.88,1)" y="5.04" font-size="14" font-weight="normal" text-anchor="middle" fill="#111" stroke="#111" stroke-width="0.35">9</text>
<line x1="699" y1="525" x2="699" y2="668" stroke="#333" stroke-width="0.9"/>
<text transform="translate(692.5,537.5) rotate(-90) scale(0.88,1)" y="5.04" font-size="14" font-weight="normal" text-anchor="middle" fill="#111" stroke="#111" stroke-width="0.35">10</text>
<text transform="translate(692.5,581) rotate(-90) scale(0.88,1)" y="5.04" font-size="14" font-weight="normal" text-anchor="middle" fill="#111" stroke="#111" stroke-width="0.35">191</text>
<text transform="translate(692.5,619) rotate(-90) scale(0.88,1)" y="5.04" font-size="14" font-weight="normal" text-anchor="middle" fill="#111" stroke="#111" stroke-width="0.35">6</text>
<text transform="translate(692.5,643) rotate(-90) scale(0.88,1)" y="5.04" font-size="14" font-weight="normal" text-anchor="middle" fill="#111" stroke="#111" stroke-width="0.35">68</text>
<text transform="translate(692.5,656.5) rotate(-90) scale(0.88,1)" y="5.04" font-size="14" font-weight="normal" text-anchor="middle" fill="#111" stroke="#111" stroke-width="0.35">6</text>
<text transform="translate(692.5,678) rotate(-90) scale(0.88,1)" y="5.04" font-size="14" font-weight="normal" text-anchor="middle" fill="#111" stroke="#111" stroke-width="0.35">10</text>
<rect x="718" y="624" width="19" height="40" stroke="#111" stroke-width="1.2" fill="none"/>
<rect x="721" y="627" width="13" height="34" fill="url(#hat)" stroke="#111" stroke-width="1"/>
<line x1="738" y1="529" x2="738" y2="668" stroke="#111" stroke-width="1.1" stroke-dasharray="5,3"/>
<line x1="549" y1="668" x2="738" y2="668" stroke="#111" stroke-width="1.1" stroke-dasharray="6,4"/>
<line x1="549" y1="661" x2="733" y2="661" stroke="#111" stroke-width="1.1"/>
<line x1="555" y1="655" x2="730" y2="655" stroke="#444" stroke-width="1.1" stroke-dasharray="12,14"/>
<line x1="743" y1="654" x2="761" y2="654" stroke="#888" stroke-width="1"/>
<line x1="728" y1="662" x2="728" y2="695" stroke="#111" stroke-width="1"/>
<line x1="535" y1="675" x2="535" y2="705" stroke="#111" stroke-width="1.2"/>
<line x1="733" y1="529" x2="733" y2="661" stroke="#111" stroke-width="1.2"/>
<line x1="726.7" y1="529" x2="726.7" y2="598" stroke="#444" stroke-width="0.9"/>
<line x1="430.55" y1="66.2" x2="436.95" y2="59.8" stroke="#111" stroke-width="1.3"/>
<line x1="430.55" y1="71.2" x2="436.95" y2="64.8" stroke="#111" stroke-width="1.3"/>
<line x1="430.55" y1="166.95" x2="436.95" y2="160.55" stroke="#111" stroke-width="1.3"/>
<line x1="430.55" y1="173.2" x2="436.95" y2="166.8" stroke="#111" stroke-width="1.3"/>
<line x1="505.3" y1="229.2" x2="511.7" y2="222.8" stroke="#111" stroke-width="1.3"/>
<line x1="505.3" y1="259.7" x2="511.7" y2="253.3" stroke="#111" stroke-width="1.3"/>
<line x1="505.3" y1="429.2" x2="511.7" y2="422.8" stroke="#111" stroke-width="1.3"/>
<line x1="506.5" y1="111.60000000000001" x2="512.9" y2="105.2" stroke="#111" stroke-width="1.3"/>
<line x1="506.5" y1="166.2" x2="512.9" y2="159.8" stroke="#111" stroke-width="1.3"/>
<line x1="654.8" y1="130.9" x2="661.2" y2="124.5" stroke="#111" stroke-width="1.3"/>
<line x1="654.8" y1="204.0" x2="661.2" y2="197.60000000000002" stroke="#111" stroke-width="1.3"/>
<line x1="654.8" y1="213.2" x2="661.2" y2="206.8" stroke="#111" stroke-width="1.3"/>
<line x1="753.8" y1="200.2" x2="760.2" y2="193.8" stroke="#111" stroke-width="1.3"/>
<line x1="753.8" y1="240.7" x2="760.2" y2="234.3" stroke="#111" stroke-width="1.3"/>
<line x1="753.8" y1="366.95" x2="760.2" y2="360.55" stroke="#111" stroke-width="1.3"/>
<line x1="331.8" y1="247.2" x2="338.2" y2="240.8" stroke="#111" stroke-width="1.3"/>
<line x1="331.8" y1="347.2" x2="338.2" y2="340.8" stroke="#111" stroke-width="1.3"/>
<line x1="331.8" y1="351.2" x2="338.2" y2="344.8" stroke="#111" stroke-width="1.3"/>
<line x1="282.8" y1="387.9" x2="289.2" y2="381.5" stroke="#111" stroke-width="1.3"/>
<line x1="430.8" y1="387.9" x2="437.2" y2="381.5" stroke="#111" stroke-width="1.3"/>
<line x1="435.8" y1="387.9" x2="442.2" y2="381.5" stroke="#111" stroke-width="1.3"/>
<line x1="471.8" y1="316.0" x2="478.2" y2="309.6" stroke="#111" stroke-width="1.3"/>
<line x1="471.8" y1="350.4" x2="478.2" y2="344.0" stroke="#111" stroke-width="1.3"/>
<line x1="535.8" y1="262.7" x2="542.2" y2="256.3" stroke="#111" stroke-width="1.3"/>
<line x1="616.3" y1="262.2" x2="622.7" y2="255.8" stroke="#111" stroke-width="1.3"/>
<line x1="621.3" y1="262.2" x2="627.7" y2="255.8" stroke="#111" stroke-width="1.3"/>
<line x1="586.8" y1="132.2" x2="593.2" y2="125.8" stroke="#111" stroke-width="1.3"/>
<line x1="586.8" y1="236.79999999999998" x2="593.2" y2="230.4" stroke="#111" stroke-width="1.3"/>
<line x1="598.8" y1="128.6" x2="605.2" y2="122.2" stroke="#111" stroke-width="1.3"/>
<line x1="598.8" y1="241.5" x2="605.2" y2="235.10000000000002" stroke="#111" stroke-width="1.3"/>
<line x1="538.8" y1="479.2" x2="545.2" y2="472.8" stroke="#111" stroke-width="1.3"/>
<line x1="558.1999999999999" y1="479.2" x2="564.6" y2="472.8" stroke="#111" stroke-width="1.3"/>
<line x1="580.8" y1="495.7" x2="587.2" y2="489.3" stroke="#111" stroke-width="1.3"/>
<line x1="580.8" y1="518.2" x2="587.2" y2="511.8" stroke="#111" stroke-width="1.3"/>
<line x1="362.3" y1="83.7" x2="368.7" y2="77.3" stroke="#111" stroke-width="1.3"/>
<line x1="362.3" y1="141.2" x2="368.7" y2="134.8" stroke="#111" stroke-width="1.3"/>
<line x1="364.3" y1="247.2" x2="370.7" y2="240.8" stroke="#111" stroke-width="1.3"/>
<line x1="734.3" y1="473.2" x2="740.7" y2="466.8" stroke="#111" stroke-width="1.3"/>
<line x1="862.8" y1="382.2" x2="869.2" y2="375.8" stroke="#111" stroke-width="1.3"/>
<line x1="862.8" y1="489.2" x2="869.2" y2="482.8" stroke="#111" stroke-width="1.3"/>
<line x1="862.8" y1="524.2" x2="869.2" y2="517.8" stroke="#111" stroke-width="1.3"/>
<line x1="862.8" y1="529.2" x2="869.2" y2="522.8" stroke="#111" stroke-width="1.3"/>
<line x1="542.3" y1="612.7" x2="548.7" y2="606.3" stroke="#111" stroke-width="1.3"/>
<line x1="695.8" y1="532.7" x2="702.2" y2="526.3" stroke="#111" stroke-width="1.3"/>
<line x1="695.8" y1="627.2" x2="702.2" y2="620.8" stroke="#111" stroke-width="1.3"/>
<line x1="695.8" y1="664.2" x2="702.2" y2="657.8" stroke="#111" stroke-width="1.3"/>
<line x1="695.8" y1="668.7" x2="702.2" y2="662.3" stroke="#111" stroke-width="1.3"/>
<line x1="875.8" y1="473.2" x2="882.2" y2="466.8" stroke="#111" stroke-width="1.3"/>
<line x1="878.8" y1="473.2" x2="885.2" y2="466.8" stroke="#111" stroke-width="1.3"/>
<line x1="893.8" y1="473.2" x2="900.2" y2="466.8" stroke="#111" stroke-width="1.3"/>
<line x1="896.8" y1="473.2" x2="903.2" y2="466.8" stroke="#111" stroke-width="1.3"/>
<line x1="711.8" y1="611.2" x2="718.2" y2="604.8" stroke="#111" stroke-width="1.3"/>
<line x1="714.8" y1="611.2" x2="721.2" y2="604.8" stroke="#111" stroke-width="1.3"/>
<line x1="730.8" y1="611.2" x2="737.2" y2="604.8" stroke="#111" stroke-width="1.3"/>
<line x1="733.8" y1="611.2" x2="740.2" y2="604.8" stroke="#111" stroke-width="1.3"/>
<line x1="336.8" y1="131.7" x2="343.2" y2="125.3" stroke="#111" stroke-width="1.3"/>
<line x1="336.8" y1="142.2" x2="343.2" y2="135.8" stroke="#111" stroke-width="1.3"/>
<line x1="721.0999999999999" y1="118.5" x2="727.5" y2="112.1" stroke="#111" stroke-width="1.3"/>
<line x1="716.1999999999999" y1="262.2" x2="722.6" y2="255.8" stroke="#111" stroke-width="1.3"/>
<line x1="505.40000000000003" y1="653.2" x2="511.8" y2="646.8" stroke="#111" stroke-width="1.3"/>
<line x1="754.3" y1="366.95" x2="760.7" y2="360.55" stroke="#111" stroke-width="1.3"/>
<line x1="379.5" y1="54" x2="380.5" y2="245" stroke="#111" stroke-width="1.5" stroke-dasharray="16,6,2,6"/>
<circle cx="308.8" cy="199.4" r="10.8" stroke="#111" stroke-width="1.1" fill="none"/>
<text transform="translate(308.8,199.4) scale(0.88,1)" y="5.94" font-size="16.5" font-weight="normal" text-anchor="middle" fill="#111" stroke="#111" stroke-width="0.35">19</text>
<line x1="308.8" y1="210.2" x2="308.8" y2="269" stroke="#111" stroke-width="0.9"/>
<text transform="translate(327.7,218) rotate(-90) scale(0.76,1)" y="4.68" font-size="13" font-weight="normal" text-anchor="middle" fill="#111" stroke="#111" stroke-width="0.35">205</text>
<text transform="translate(327.7,148.4) rotate(-90) scale(0.76,1)" y="4.68" font-size="13" font-weight="normal" text-anchor="middle" fill="#111" stroke="#111" stroke-width="0.35">20</text>
<text transform="translate(303.75,256) rotate(-90) scale(0.76,1)" y="4.68" font-size="13" font-weight="normal" text-anchor="middle" fill="#111" stroke="#111" stroke-width="0.35">80</text>
<text transform="translate(315.5,254) rotate(-90) scale(0.76,1)" y="4.68" font-size="13" font-weight="normal" text-anchor="middle" fill="#111" stroke="#111" stroke-width="0.35">210</text>
<text transform="translate(330,254) rotate(-90) scale(0.76,1)" y="4.68" font-size="13" font-weight="normal" text-anchor="middle" fill="#111" stroke="#111" stroke-width="0.35">10</text>
<rect x="326" y="240" width="10" height="5" stroke="#111" stroke-width="0.9" fill="none"/>
<line x1="379" y1="61" x2="379" y2="80.5" stroke="#111" stroke-width="2"/>
<line x1="288.4" y1="61" x2="288.4" y2="69" stroke="#111" stroke-width="1"/>
<line x1="291.3" y1="61" x2="291.3" y2="69" stroke="#111" stroke-width="1"/>
<line x1="288.4" y1="84" x2="288.4" y2="128" stroke="#111" stroke-width="1" stroke-dasharray="5,3"/>
<line x1="291.3" y1="84" x2="291.3" y2="128" stroke="#111" stroke-width="1" stroke-dasharray="5,3"/>
<line x1="288.4" y1="139" x2="288.4" y2="146" stroke="#111" stroke-width="1"/>
<line x1="291.3" y1="139" x2="291.3" y2="146" stroke="#111" stroke-width="1"/>
<line x1="233" y1="73.3" x2="270" y2="73.3" stroke="#111" stroke-width="2.2"/>
<line x1="235" y1="69.5" x2="235" y2="76" stroke="#111" stroke-width="1"/>
<line x1="255" y1="69.5" x2="255" y2="76" stroke="#111" stroke-width="1"/>
<line x1="126" y1="70" x2="126" y2="76" stroke="#111" stroke-width="1"/>
<line x1="96" y1="70" x2="96" y2="76" stroke="#111" stroke-width="1"/>
<line x1="702.4" y1="625.7" x2="713.5" y2="625.7" stroke="#555" stroke-width="1"/>
<line x1="702" y1="663.5" x2="714" y2="663.5" stroke="#555" stroke-width="1"/>
<line x1="718.7" y1="603" x2="718.7" y2="624" stroke="#444" stroke-width="0.9"/>
<line x1="889" y1="167" x2="889" y2="186" stroke="#111" stroke-width="1.1"/>
</svg></body></html>
